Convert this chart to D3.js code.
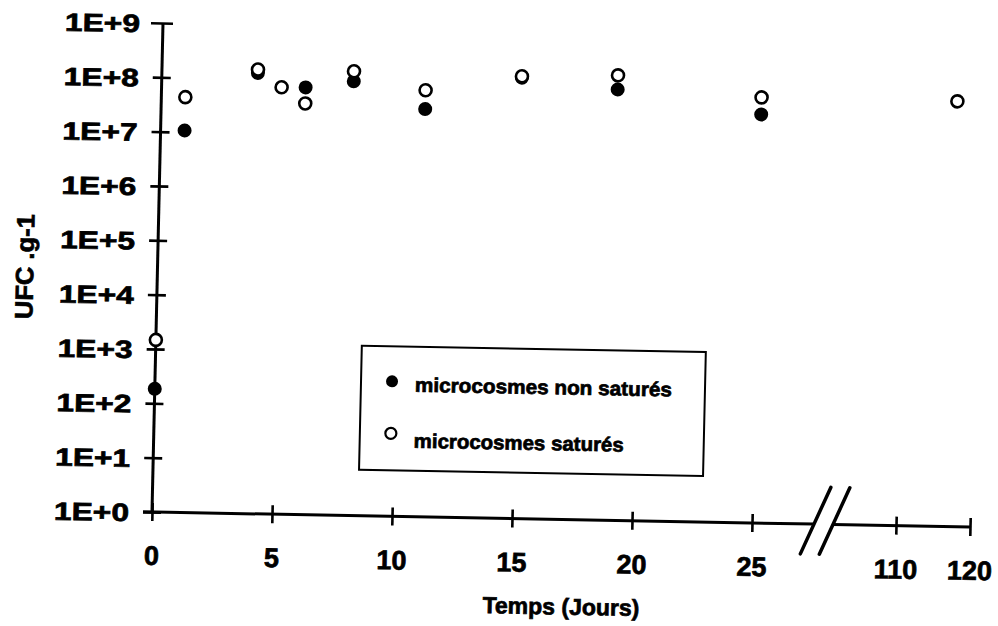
<!DOCTYPE html>
<html>
<head>
<meta charset="utf-8">
<script src="https://cdn.jsdelivr.net/npm/d3@7"></script>
<style>
  html, body { margin: 0; padding: 0; background: #fff; }
  svg { display: block; }
  text { font-family: "Liberation Sans", Arial, Helvetica, sans-serif; font-weight: bold; fill: #000; stroke: #000; stroke-width: 0.7px; }
</style>
</head>
<body>
<svg id="chart" width="998" height="626"></svg>
<script>
// ---- data ----
const daysNonSat = [0, 1, 4, 6, 8, 11, 15, 19, 25];
const ufcNonSat  = [185, 1.07e7, 1.3e8, 7.3e7, 9.8e7, 3.2e7, 1.3e8, 8.5e7, 3.3e7];
const daysSat    = [0, 1, 4, 5, 6, 8, 11, 15, 19, 25, 117];
const ufcSat     = [1.47e3, 4.4e7, 1.5e8, 7.2e7, 3.7e7, 1.5e8, 7.1e7, 1.38e8, 1.55e8, 6.8e7, 6.7e7];
const yTickValues = [1, 1e1, 1e2, 1e3, 1e4, 1e5, 1e6, 1e7, 1e8, 1e9];
const yTickLabels = ["1E+0", "1E+1", "1E+2", "1E+3", "1E+4", "1E+5", "1E+6", "1E+7", "1E+8", "1E+9"];
const xTickValues = [0, 5, 10, 15, 20, 25, 110, 120];
const xTickLabels = ["0", "5", "10", "15", "20", "25", "110", "120"];
const seriesNames = ["microcosmes non saturés", "microcosmes saturés"];
const xTitle = "Temps (Jours)";
const yTitle = "UFC .g-1";

// ---- layout ----
const svg = d3.select("#chart");
// slight scan tilt of the original figure
const g = svg.append("g").attr("transform", "matrix(1,0.0183,-0.0225,1,152,512)");

const x = d3.scaleLinear().domain([0, 25, 110, 120]).range([0, 600, 744, 818]);
const y = d3.scaleLog().domain([1, 1e9]).range([0, -489]);

// y axis line
g.append("line").attr("x1", 0).attr("x2", 0).attr("y1", y(1e9)).attr("y2", y(1))
  .attr("stroke", "#000").attr("stroke-width", 3);

// y ticks via d3 axis
const yAxis = d3.axisLeft(y).tickValues(yTickValues)
  .tickFormat((d, i) => yTickLabels[i]).tickSize(0).tickPadding(24);
const yg = g.append("g").call(yAxis);
yg.select(".domain").remove();
yg.selectAll(".tick line").attr("x1", (d) => d === 1e9 ? -12 : -9).attr("x2", (d) => d === 1e9 ? 10 : 9)
  .attr("stroke", "#000").attr("stroke-width", 2.6);
yg.selectAll(".tick text").attr("font-size", 25).attr("font-family", null).attr("fill", null)
  .attr("textLength", 75).attr("lengthAdjust", "spacingAndGlyphs").attr("dy", "0.36em").attr("x", -23);

// x axis line with break
const breakA = 662, breakB = 681;
g.append("line").attr("x1", -9).attr("x2", breakA).attr("y1", 0).attr("y2", 0)
  .attr("stroke", "#000").attr("stroke-width", 3);
g.append("line").attr("x1", breakB).attr("x2", x(120)).attr("y1", 0).attr("y2", 0)
  .attr("stroke", "#000").attr("stroke-width", 3);
[breakA, breakB].forEach(bx => {
  g.append("line").attr("x1", bx - 13).attr("y1", 30).attr("x2", bx + 16).attr("y2", -37)
    .attr("stroke", "#000").attr("stroke-width", 3.5).attr("stroke-linecap", "round");
});

const xAxis = d3.axisBottom(x).tickValues(xTickValues)
  .tickFormat((d, i) => xTickLabels[i]).tickSize(0).tickPadding(0);
const xg = g.append("g").call(xAxis);
xg.select(".domain").remove();
xg.selectAll(".tick line").attr("y1", -9).attr("y2", 9).attr("stroke", "#000").attr("stroke-width", 2.6);
xg.selectAll(".tick text").attr("font-size", 27).attr("font-family", null).attr("fill", null)
  .attr("y", 53).attr("dy", null);

// axis titles
g.append("text").attr("x", 411).attr("y", 95).attr("text-anchor", "middle")
  .attr("font-size", 23).text(xTitle);
g.append("text").attr("transform", "translate(-124,-243) rotate(-90)")
  .attr("text-anchor", "middle").attr("font-size", 25)
  .attr("textLength", 105).attr("lengthAdjust", "spacingAndGlyphs").text(yTitle);

// points: filled first, open on top
const nonSat = daysNonSat.map((d, i) => ({ d, v: ufcNonSat[i] }));
const sat = daysSat.map((d, i) => ({ d, v: ufcSat[i] }));
g.append("g").selectAll("circle").data(nonSat).join("circle")
  .attr("cx", p => x(p.d)).attr("cy", p => y(p.v)).attr("r", 7).attr("fill", "#000");
g.append("g").selectAll("circle").data(sat).join("circle")
  .attr("cx", p => x(p.d)).attr("cy", p => y(p.v)).attr("r", 6)
  .attr("fill", "#fff").attr("stroke", "#000").attr("stroke-width", 2.6);

// legend
const lg = g.append("g");
lg.append("rect").attr("x", 206).attr("y", -170).attr("width", 344).attr("height", 124)
  .attr("fill", "none").attr("stroke", "#000").attr("stroke-width", 2);
lg.append("circle").attr("cx", 237).attr("cy", -135).attr("r", 6).attr("fill", "#000");
lg.append("circle").attr("cx", 237).attr("cy", -83).attr("r", 5.5).attr("fill", "#fff")
  .attr("stroke", "#000").attr("stroke-width", 2.2);
lg.append("text").attr("x", 260).attr("y", -125).attr("font-size", 20)
  .attr("textLength", 257).attr("lengthAdjust", "spacingAndGlyphs").text(seriesNames[0]);
lg.append("text").attr("x", 260).attr("y", -69).attr("font-size", 20)
  .attr("textLength", 210).attr("lengthAdjust", "spacingAndGlyphs").text(seriesNames[1]);
</script>
</body>
</html>
